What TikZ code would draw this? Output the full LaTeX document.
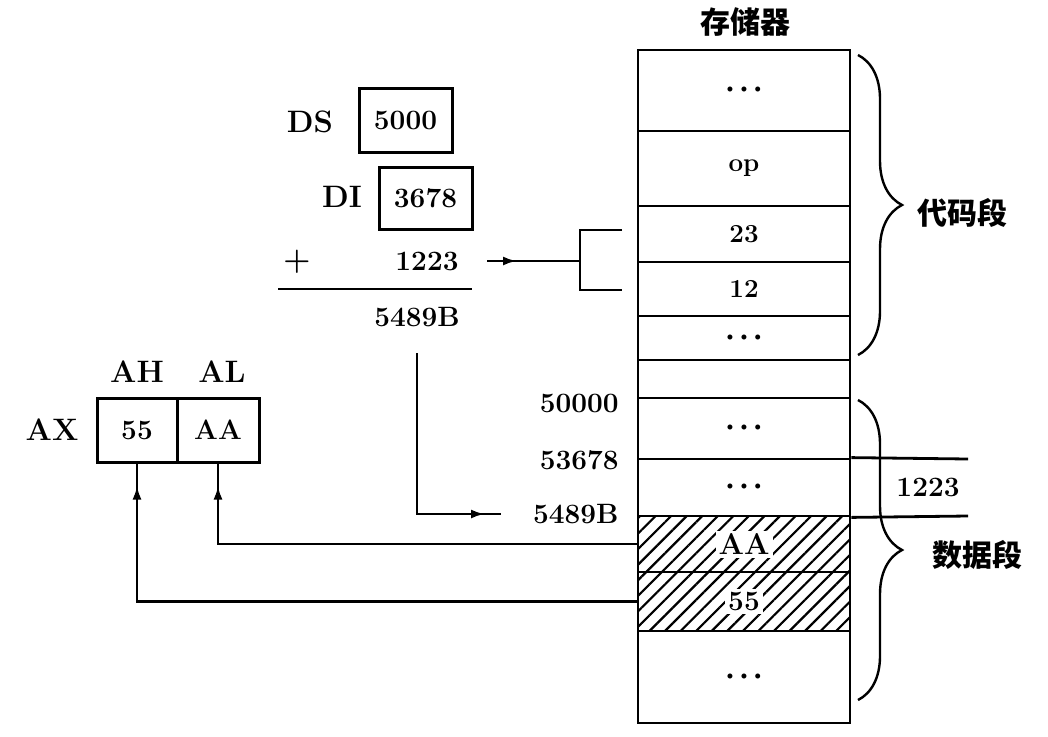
\documentclass[tikz,border=0pt]{standalone}
\usepackage{fontspec}
\newfontfamily\cjk{Noto Sans CJK SC}
\usetikzlibrary{patterns.meta,decorations.pathreplacing,decorations.markings,arrows.meta}
\newcommand{\dts}{{\fontsize{17}{17}\selectfont\textbullet\kern-1pt\textbullet\kern-1pt\textbullet}}
\begin{document}
\begin{tikzpicture}[x=1pt,y=-1pt,
  line width=2.8pt,
  cell/.style={draw, minimum width=212pt, inner sep=0pt, font=\bfseries\fontsize{26}{30}\selectfont},
  reg/.style={draw, line width=3pt, inner sep=0pt, font=\bfseries\fontsize{28}{34}\selectfont},
  lbl/.style={font=\bfseries\fontsize{31}{36}\selectfont, inner sep=0pt},
  num/.style={font=\bfseries\fontsize{28}{34}\selectfont, inner sep=0pt},
  cn/.style={font=\cjk\bfseries\fontsize{30}{34}\selectfont, inner sep=0pt},
  hatch/.style={pattern={Lines[angle=45,distance=11pt,line width=2.2pt]}},
  midarrow/.style={postaction={decorate}, decoration={markings, mark=at position #1 with {\arrow{Latex[length=14pt,width=9pt]}}}},
  bracestyle/.style={line width=2.4pt, decorate, decoration={brace, amplitude=44pt}},
]
\useasboundingbox (0,0) rectangle (1048,736);

% memory
\node[cn] (title) at (745,22) {存储器};
\node[cell, minimum height=81pt] (c1) at (744,90.5) {\dts};
\node[cell, minimum height=75pt] (c2) at (744,168.5) {op};
\node[cell, minimum height=56pt] (c3) at (744,234) {23};
\node[cell, minimum height=54pt] (c4) at (744,289) {12};
\node[cell, minimum height=44pt] (c5) at (744,338) {\dts};
\node[cell, minimum height=38pt] (c6) at (744,379) {};
\node[cell, minimum height=61pt] (c7) at (744,428.5) {\dts};
\node[cell, minimum height=57pt] (c8) at (744,487.5) {\dts};
\node[cell, hatch, minimum height=56pt] (c9) at (744,544) {};
\node[fill=white, inner sep=3pt, font=\bfseries\fontsize{30}{36}\selectfont] (t9) at (c9) {AA};
\node[cell, hatch, minimum height=59pt] (c10) at (744,601.5) {};
\node[fill=white, inner sep=3pt, font=\bfseries\fontsize{28}{34}\selectfont] (t10) at (c10) {55};
\node[cell, minimum height=92pt] (c11) at (744,677) {\dts};

% braces
\coordinate (br1a) at (858,55);
\coordinate (br1b) at (858,355);
\coordinate (br2a) at (858,400);
\coordinate (br2b) at (858,700);
\draw[bracestyle] (br1a) -- (br1b);
\draw[bracestyle] (br2a) -- (br2b);
\node[cn] (code) at (962,213) {代码段};
\node[cn] (data) at (977,555) {数据段};

% offset marker on the right
\coordinate (r1) at (968,459);
\coordinate (r2) at (968,516);
\draw (c8.north east) -- (r1);
\draw (c8.south east) -- (r2);
\node[num] (off) at (928,487) {1223};

% address labels
\node[num, anchor=east] (a50000) at (620,403) {50000};
\node[num, anchor=east] (a53678) at (620,460) {53678};
\node[num, anchor=east] (a5489B) at (620,514) {5489B};

% registers DS, DI
\node[lbl] (dsl) at (310,122) {DS};
\node[reg, minimum width=93pt, minimum height=64pt] (ds) at (405.5,120) {5000};
\node[lbl] (dil) at (342,197) {DI};
\node[reg, minimum width=93pt, minimum height=62pt] (di) at (425.5,198) {3678};
\node[lbl] (plus) at (297,262) {+};
\node[num] (disp) at (427,261) {1223};
\coordinate (sumL) at (278,289);
\coordinate (sumR) at (472,289);
\draw (sumL) -- (sumR);
\node[num] (sum) at (417,317) {5489B};

% bracket at code bytes
\coordinate (b1) at (622,230);
\coordinate (b2) at (580,230);
\coordinate (b3) at (580,290);
\coordinate (b4) at (622,290);
\coordinate (bm) at (580,261);
\draw (b1) -- (b2) -- (b3) -- (b4);
\coordinate (a0) at (487,261);
\draw[midarrow=30pt] (a0) -- (bm);

% effective address arrow
\coordinate (s0) at (417,353);
\coordinate (e0) at (501,514);
\draw[midarrow=-16pt] (s0) |- (e0);

% AX register
\node[lbl] (axl) at (52,430) {AX};
\node[reg, minimum width=80pt, minimum height=64pt] (ah) at (137,430) {55};
\node[reg, minimum width=82pt, minimum height=64pt] (al) at (218,430) {AA};
\node[lbl] (ahl) at (137,372) {AH};
\node[lbl] (all) at (222,372) {AL};

% data transfer lines
\draw[midarrow=-22pt] (c9.west) -| (al.south);
\draw[midarrow=-22pt] (c10.west) -| (ah.south);
\end{tikzpicture}
\end{document}
